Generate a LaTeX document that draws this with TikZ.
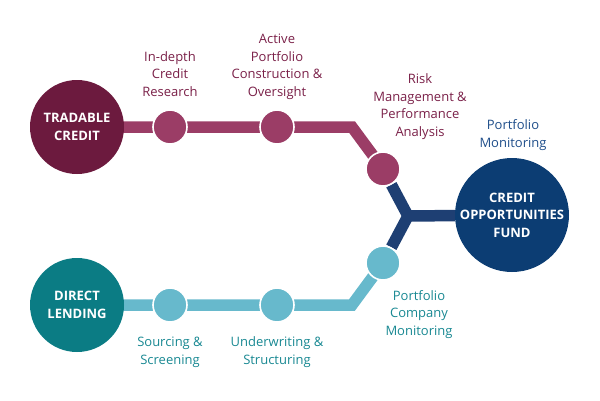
\documentclass[tikz,border=0pt]{standalone}
\usepackage{fontspec}
\setmainfont{Open Sans}
\usepackage{tikz}
\usetikzlibrary{positioning,calc,backgrounds}
\definecolor{cfMaroon}{RGB}{108,26,62}
\definecolor{cfRose}{RGB}{155,61,102}
\definecolor{cfRoseText}{RGB}{122,32,72}
\definecolor{cfTeal}{RGB}{11,124,132}
\definecolor{cfAqua}{RGB}{103,185,204}
\definecolor{cfTealText}{RGB}{24,136,146}
\definecolor{cfNavy}{RGB}{30,63,115}
\definecolor{cfFund}{RGB}{12,61,115}
\definecolor{cfNavyText}{RGB}{31,78,138}

\begin{document}
\begin{tikzpicture}[x=1pt, y=-1pt,
  big/.style={circle, fill=#1, text=white, minimum size=94pt, inner sep=0pt,
    align=center, font=\fontsize{13}{17.5}\selectfont\bfseries},
  waypt/.style={circle, fill=#1, draw=white, line width=1.6pt, minimum size=34pt, inner sep=0pt},
  track/.style={line width=11.5pt, line join=miter, draw=#1},
  lbl/.style={align=center, anchor=base, text=#1, font=\fontsize{13}{17.5}\selectfont}]
\useasboundingbox (0,0) rectangle (600,400);
% sources and fund
\node[big=cfMaroon] (tc) at (77,127) {TRADABLE\\CREDIT};
\node[big=cfTeal] (dl) at (77,305) {DIRECT\\LENDING};
\node[big=cfFund, minimum size=114pt] (fund) at (512,215) {CREDIT\\OPPORTUNITIES\\FUND};
% stops
\node[waypt=cfRose] (t1) at (170,127) {};
\node[waypt=cfRose] (t2) at (277,127) {};
\node[waypt=cfRose] (t3) at (383,169) {};
\node[waypt=cfAqua] (d1) at (170,305) {};
\node[waypt=cfAqua] (d2) at (277,305) {};
\node[waypt=cfAqua] (d3) at (383,263) {};
\coordinate (tbend) at (352,127);
\coordinate (dbend) at (352,305);
\coordinate (join) at (408,216);
% tracks
\begin{pgfonlayer}{background}
  \draw[track=cfRose] (tc.center) -- (tbend) -- (t3.center);
  \draw[track=cfAqua] (dl.center) -- (dbend) -- (d3.center);
  \draw[track=cfNavy] (t3) -- (join) -- (d3);
  \draw[track=cfNavy] (join) -- (fund);
\end{pgfonlayer}
% labels (anchor = last baseline)
\node[lbl=cfRoseText] (l1) at (170,96) {In-depth\\Credit\\Research};
\node[lbl=cfRoseText] (l2) at (277,96) {Active\\Portfolio\\Construction \&\\Oversight};
\node[lbl=cfRoseText] (l3) at (420,136) {Risk\\Management \&\\Performance\\Analysis};
\node[lbl=cfNavyText] (l4) at (513,147) {Portfolio\\Monitoring};
\node[lbl=cfTealText] (l5) at (419,335) {Portfolio\\Company\\Monitoring};
\node[lbl=cfTealText] (l6) at (170,364) {Sourcing \&\\Screening};
\node[lbl=cfTealText] (l7) at (277,364) {Underwriting \&\\Structuring};
\end{tikzpicture}
\end{document}
